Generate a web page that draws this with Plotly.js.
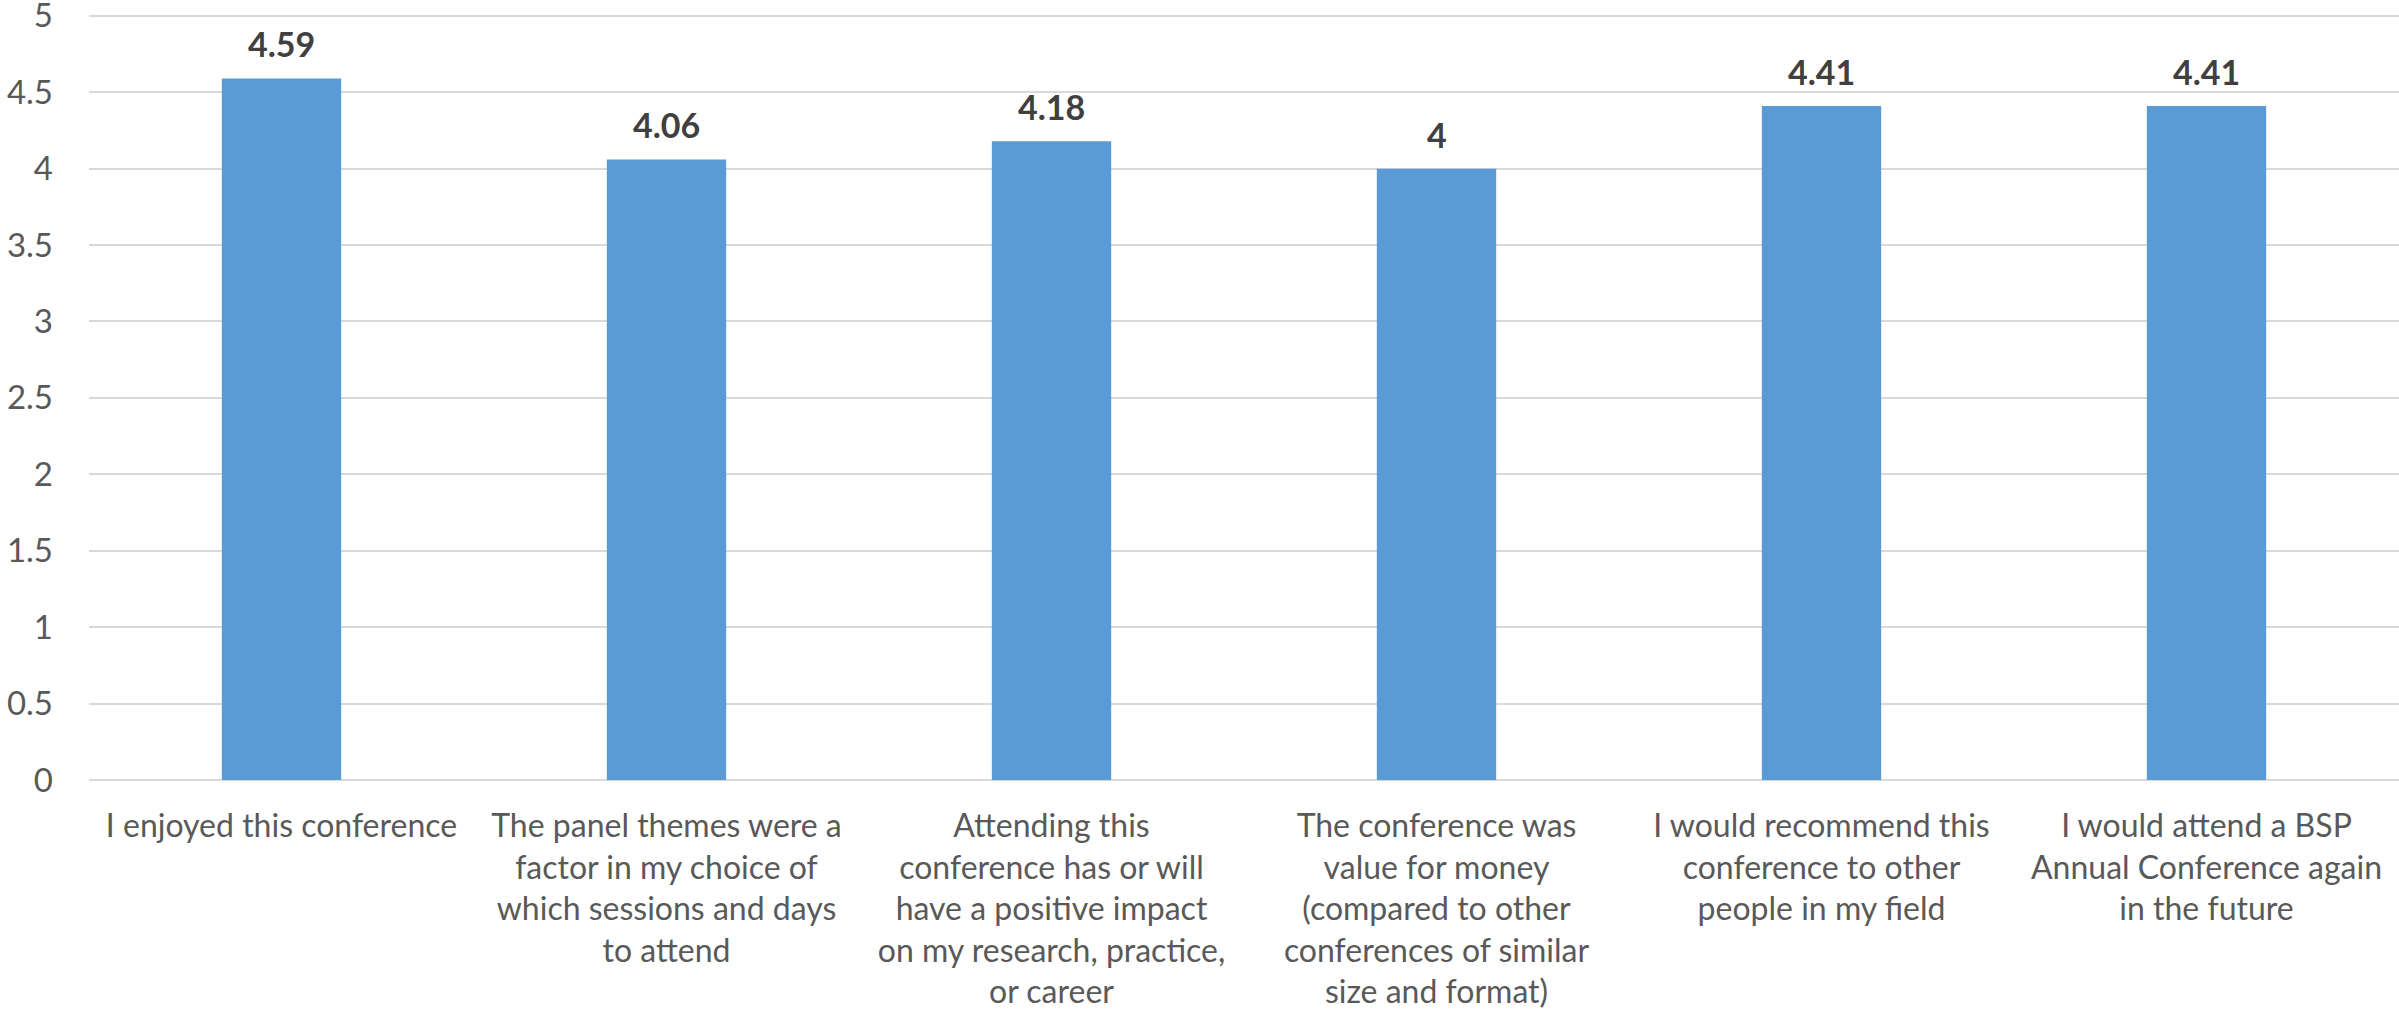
<!DOCTYPE html>
<html>
<head>
<meta charset="utf-8">
<script src="https://cdn.plot.ly/plotly-3.0.1.min.js"></script>
<style>
html,body{margin:0;padding:0;background:#fff;}
#chart{width:2399px;height:1026px;}
</style>
</head>
<body>
<div id="chart"></div>
<script>
const categories = [
  "I enjoyed this conference",
  "The panel themes were a<br>factor in my choice of<br>which sessions and days<br>to attend",
  "Attending this<br>conference has or will<br>have a positive impact<br>on my research, practice,<br>or career",
  "The conference was<br>value for money<br>(compared to other<br>conferences of similar<br>size and format)",
  "I would recommend this<br>conference to other<br>people in my field",
  "I would attend a BSP<br>Annual Conference again<br>in the future"
];
const values = [4.59, 4.06, 4.18, 4, 4.41, 4.41];
const valueLabels = ["4.59", "4.06", "4.18", "4", "4.41", "4.41"];
const yTickVals = [0, 0.5, 1, 1.5, 2, 2.5, 3, 3.5, 4, 4.5, 5];
const yTickText = ["0", "0.5", "1", "1.5", "2", "2.5", "3", "3.5", "4", "4.5", "5"];

const FONT = "Lato, 'Open Sans', sans-serif";

const trace = {
  type: "bar",
  x: categories,
  y: values,
  marker: {color: "#5B9BD5"},
  hoverinfo: "none"
};

const annotations = categories.map((c, i) => ({
  x: c, y: values[i], xref: "x", yref: "y",
  text: "<b>" + valueLabels[i] + "</b>",
  showarrow: false, yanchor: "bottom", yshift: 12,
  font: {family: FONT, size: 34, color: "#404040"}
}));

const layout = {
  width: 2399, height: 1026,
  margin: {l: 89, r: 0, t: 12, b: 246},
  paper_bgcolor: "#ffffff", plot_bgcolor: "#ffffff",
  bargap: 0.69,
  showlegend: false,
  font: {family: FONT, color: "#595959", size: 32},
  xaxis: {
    type: "category",
    showgrid: false, zeroline: false, showline: false,
    ticks: "", ticklabelstandoff: 24,
    tickangle: 0,
    tickfont: {family: FONT, size: 32, color: "#595959"},
    fixedrange: true
  },
  yaxis: {
    range: [0, 5.025],
    tickvals: yTickVals, ticktext: yTickText,
    showgrid: true, gridcolor: "#D9D9D9", gridwidth: 2,
    zeroline: true, zerolinecolor: "#D9D9D9", zerolinewidth: 2,
    showline: false, ticks: "", ticklabelstandoff: 35,
    ticklabeloverflow: "allow",
    tickfont: {family: FONT, size: 33, color: "#595959"},
    fixedrange: true
  },
  annotations: annotations
};

Plotly.newPlot("chart", [trace], layout, {displayModeBar: false, staticPlot: true});
</script>
</body>
</html>
